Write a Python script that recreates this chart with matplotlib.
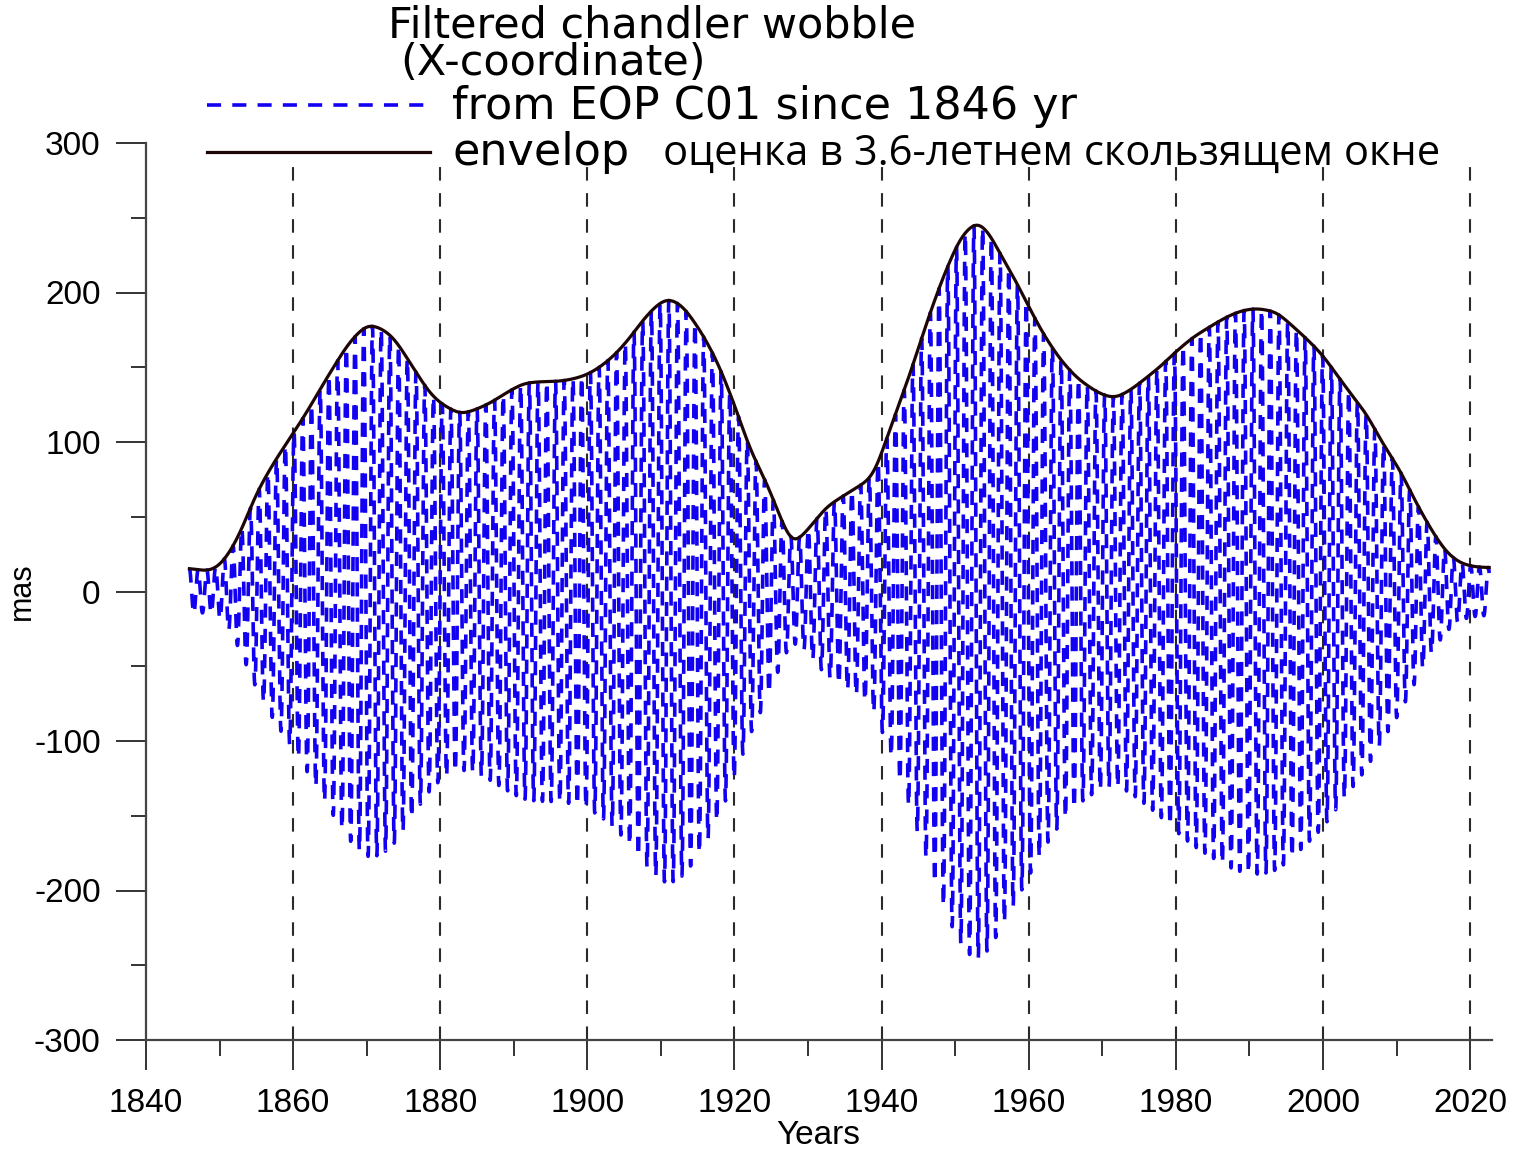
import numpy as np
import matplotlib
matplotlib.use("Agg")
import matplotlib.pyplot as plt
from matplotlib.lines import Line2D
from matplotlib.ticker import MultipleLocator

plt.rcParams['axes.unicode_minus'] = False

# envelope of the filtered Chandler wobble (mas)
env_years = [1845.9, 1847.2, 1848.5, 1850.0, 1851.5, 1852.8, 1855.0, 1857.3, 1860.0, 1862.0,
             1864.1, 1866.0, 1867.3, 1869.0, 1870.2, 1872.0, 1873.6, 1875.0, 1876.8, 1878.5,
             1880.0, 1882.7, 1884.5, 1886.8, 1889.0, 1891.3, 1893.6, 1896.0, 1898.0, 1900.0,
             1902.0, 1904.0, 1906.0, 1907.6, 1909.5, 1911.0, 1913.0, 1915.3, 1916.8, 1918.0,
             1920.0, 1922.1, 1924.4, 1926.2, 1927.8, 1929.0, 1930.3, 1932.5, 1935.7, 1938.0,
             1939.2, 1940.0, 1942.0, 1943.9, 1946.1, 1948.4, 1950.7, 1952.9, 1954.5, 1956.1,
             1958.0, 1960.0, 1962.0, 1964.3, 1966.5, 1968.8, 1970.5, 1972.0, 1974.2, 1976.0,
             1977.8, 1980.0, 1982.3, 1984.6, 1987.0, 1989.0, 1991.0, 1993.7, 1996.0, 1998.0,
             2000.0, 2002.0, 2004.0, 2005.9, 2008.0, 2010.5, 2012.8, 2015.0, 2016.8, 2018.6,
             2020.5, 2022.4]
env_vals = [15.5, 14.5, 13.5, 17, 27, 39, 65.7, 85.7, 105.8, 121,
            139, 154, 164.5, 174, 179, 176, 170.4, 160, 146, 133,
            125.9, 118.5, 121, 126, 133, 139.3, 140.4, 140.5, 142, 145,
            151, 159.5, 171, 182, 192, 196.5, 191, 175, 162, 150,
            125, 95, 72.4, 50, 31, 36, 43.3, 56.7, 66.8, 73.5,
            80, 93, 120, 146, 179.6, 211, 237, 248, 241, 226,
            210, 190.5, 172, 155, 143, 134.8, 130.5, 129.5, 136, 143,
            150, 160.4, 170, 177, 184, 188, 189.5, 187, 177, 168,
            158, 144, 131, 119, 100, 81, 58, 39, 26, 19,
            16.5, 16]

chandler_period = 1.185   # years
t_start, t_end = 1845.9, 2022.6

# envelope on a fine time grid, smoothed so it draws as a curve
dt = 0.004
t = np.arange(t_start, t_end, dt)
env_fine = np.interp(t, env_years, env_vals)
sigma = 0.8 / dt
k = np.arange(-int(3 * sigma), int(3 * sigma) + 1)
kern = np.exp(-0.5 * (k / sigma) ** 2)
kern /= kern.sum()
pad = len(kern) // 2
env_smooth = np.convolve(np.pad(env_fine, pad, mode='edge'), kern, mode='valid')

# wobble: envelope times the Chandler oscillation
wobble = env_smooth * np.cos(2 * np.pi * (t - t_start) / chandler_period)

W, H = 1518, 1151
fig = plt.figure(figsize=(W / 100, H / 100), dpi=100)
ax = fig.add_axes([146 / W, 111 / H, (1492 - 146) / W, (1040 - 143) / H])

tick_font = ['Liberation Sans', 'DejaVu Sans']
head_font = ['DejaVu Sans']

blue = '#1200f2'
env_col = '#1e0606'

# vertical dashed grid
for yr in range(1860, 2021, 20):
    ax.axvline(yr, ymin=0, ymax=(290 + 300) / 600, color='#2a2a2a', lw=1.5,
               ls=(0, (6.5, 6.0)), zorder=1)

ax.plot(t, wobble, color=blue, lw=2.6, dashes=(3.9, 3.1), zorder=2)
ax.plot(t, env_smooth, color=env_col, lw=2.3, zorder=3)

ax.set_xlim(1840, 1840 + (1492 - 146) / 7.356)
ax.set_ylim(-300, 300)

for s in ['top', 'right']:
    ax.spines[s].set_visible(False)
for s in ['left', 'bottom']:
    ax.spines[s].set_color('#444444')
    ax.spines[s].set_linewidth(1.6)

ax.xaxis.set_major_locator(MultipleLocator(20))
ax.xaxis.set_minor_locator(MultipleLocator(10))
ax.yaxis.set_major_locator(MultipleLocator(100))
ax.yaxis.set_minor_locator(MultipleLocator(50))
ax.tick_params(axis='x', which='major', direction='out', length=21.6, width=1.4,
               color='#333333', pad=13)
ax.tick_params(axis='x', which='minor', direction='out', length=11.5, width=1.4,
               color='#333333')
ax.tick_params(axis='y', which='major', direction='out', length=21.6, width=1.4,
               color='#333333', pad=11)
ax.tick_params(axis='y', which='minor', direction='out', length=11, width=1.4,
               color='#333333')
for lab in ax.get_xticklabels() + ax.get_yticklabels():
    lab.set_fontfamily(tick_font)
    lab.set_fontsize(24)

# axis titles
fig.text(818 / W, 1 - 1136 / H, 'Years', family=tick_font, fontsize=24,
         ha='center', va='center')
fig.text(22 / W, 1 - 591 / H, 'mas', family=tick_font, fontsize=22,
         ha='center', va='center', rotation=90)

# header / legend
fig.text(388 / W, 1 - 25 / H, 'Filtered chandler wobble', family=head_font,
         fontsize=31, va='center', ha='left')
fig.text(400 / W, 1 - 63 / H, '(X-coordinate)', family=head_font,
         fontsize=31, va='center', ha='left')
fig.add_artist(Line2D([207 / W, 430 / W], [1 - 105 / H, 1 - 105 / H], color=blue,
                      lw=2.6, dashes=(3.9, 3.1), transform=fig.transFigure))
fig.add_artist(Line2D([207 / W, 430 / W], [1 - 152 / H, 1 - 152 / H], color=env_col,
                      lw=2.3, transform=fig.transFigure))
fig.text(452 / W, 1 - 106 / H, 'from EOP C01 since 1846 yr', family=head_font,
         fontsize=32, va='center', ha='left')
fig.text(452 / W, 1 - 152 / H, 'envelop', family=head_font,
         fontsize=32, va='center', ha='left')
fig.text(663 / W, 1 - 165 / H, 'оценка в 3.6-летнем скользящем окне',
         family=['Open Sans', 'DejaVu Sans'], fontsize=30, va='baseline', ha='left')

fig.savefig('out.png', dpi=100, facecolor='white')
